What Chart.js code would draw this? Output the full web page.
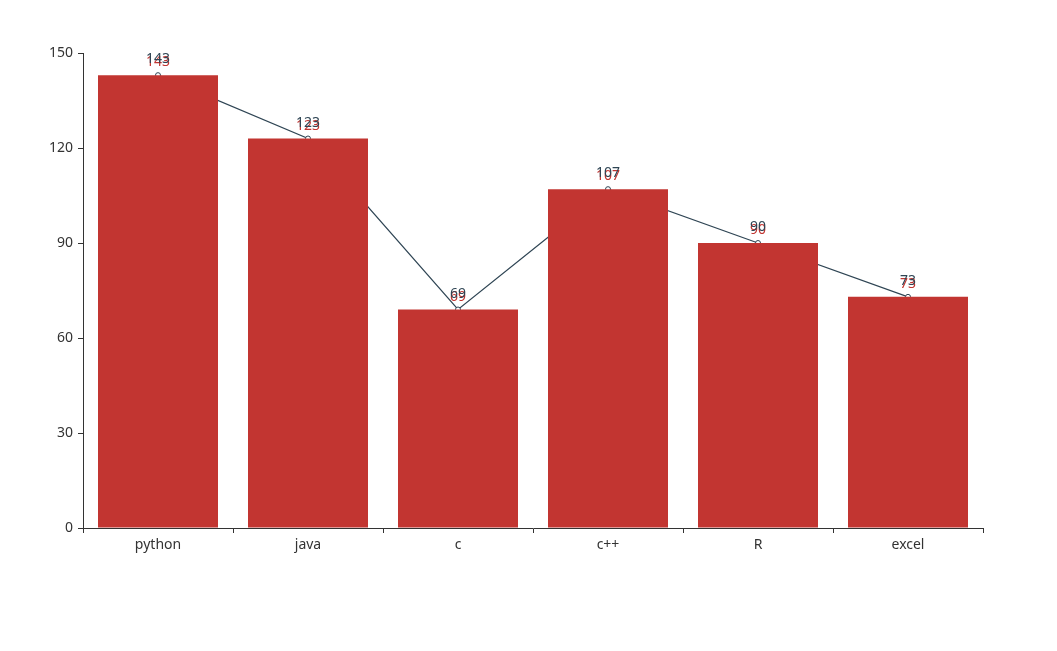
<!DOCTYPE html>
<html>
<head>
<meta charset="utf-8">
<script src="https://cdn.jsdelivr.net/npm/chart.js@4.4.0/dist/chart.umd.min.js"></script>
<style>
  html, body { margin: 0; padding: 0; background: #fff; }
  #wrap { width: 1057px; height: 651px; }
</style>
</head>
<body>
<div id="wrap"><canvas id="chart" width="1057" height="651"></canvas></div>
<script>
// donnees du graphique
const categories = ['python', 'java', 'c', 'c++', 'R', 'excel'];
const barValues = [143, 123, 69, 107, 90, 73];
const lineValues = [143, 123, 69, 107, 90, 73];
const yTicks = [0, 30, 60, 90, 120, 150];

const BAR_COLOR = '#c23531';
const LINE_COLOR = '#2f4554';
const FONT = '"Noto Sans", "DejaVu Sans", sans-serif';

// etiquettes de valeur au-dessus des barres et des points
const valueLabels = {
    id: 'valueLabels',
    afterDatasetsDraw(chart) {
        const ctx = chart.ctx;
        ctx.save();
        ctx.font = '14px ' + FONT;
        ctx.textAlign = 'center';
        ctx.textBaseline = 'alphabetic';
        chart.data.datasets.forEach((ds, i) => {
            const meta = chart.getDatasetMeta(i);
            meta.data.forEach((el, j) => {
                const isBar = ds.type === 'bar';
                ctx.fillStyle = isBar ? BAR_COLOR : LINE_COLOR;
                const y = isBar ? el.y - 9 : el.y - 12;
                ctx.fillText(String(ds.data[j]), el.x, y);
            });
        });
        ctx.restore();
    }
};

new Chart(document.getElementById('chart'), {
    data: {
        labels: categories,
        datasets: [
            {
                type: 'bar',
                label: 'bar',
                data: barValues,
                backgroundColor: BAR_COLOR,
                barPercentage: 0.8,
                categoryPercentage: 1,
                order: 0
            },
            {
                type: 'line',
                label: 'line',
                data: lineValues,
                borderColor: LINE_COLOR,
                borderWidth: 1.2,
                pointRadius: 2.5,
                pointBorderWidth: 1,
                pointBackgroundColor: '#fff',
                pointBorderColor: LINE_COLOR,
                tension: 0,
                order: 1
            }
        ]
    },
    options: {
        responsive: false,
        animation: false,
        layout: { padding: { left: 0, right: 74, top: 53, bottom: 93 } },
        plugins: {
            legend: { display: false },
            tooltip: { enabled: false }
        },
        scales: {
            x: {
                offset: true,
                border: { color: '#333', width: 1 },
                grid: { display: true, drawOnChartArea: false, drawTicks: true, tickLength: 5, color: '#333', offset: true },
                ticks: { color: '#333', font: { size: 14, family: FONT }, padding: 4 },
                afterFit(scale) { scale.height = 30; }
            },
            y: {
                min: 0,
                max: 150,
                border: { color: '#333', width: 1 },
                grid: { display: true, drawOnChartArea: false, drawTicks: true, tickLength: 5, color: '#333' },
                afterBuildTicks(scale) { scale.ticks = yTicks.map(v => ({ value: v })); },
                ticks: { color: '#333', font: { size: 14, family: FONT }, padding: 5 },
                afterFit(scale) { scale.width = 83; }
            }
        }
    },
    plugins: [valueLabels]
});
</script>
</body>
</html>
